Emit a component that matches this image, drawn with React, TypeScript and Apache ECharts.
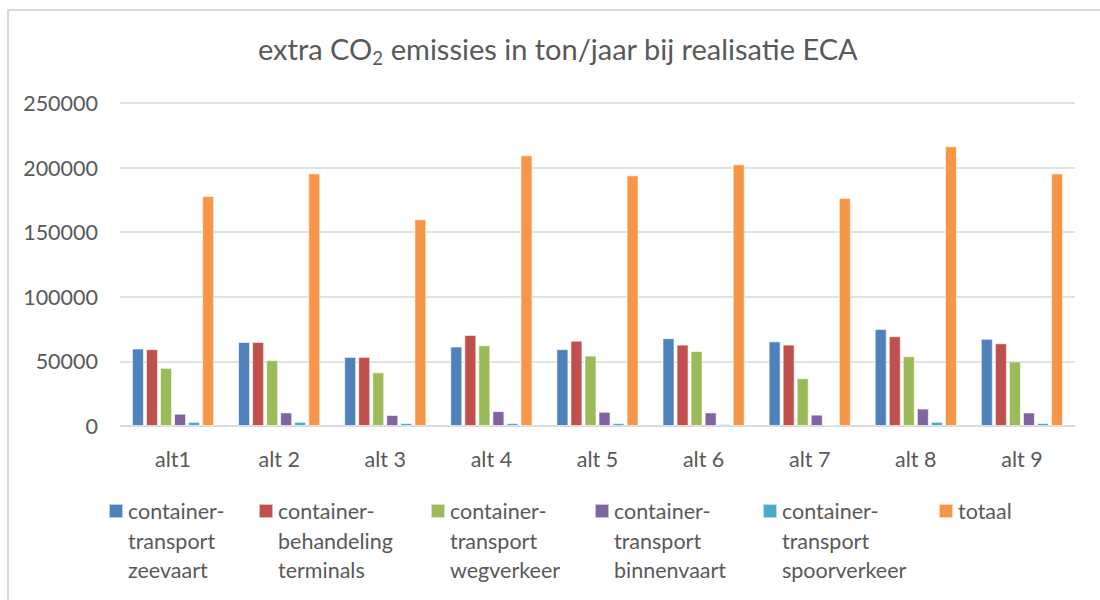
import React, { useEffect, useRef } from "react";
import * as echarts from "echarts";

const categories = ["alt1", "alt 2", "alt 3", "alt 4", "alt 5", "alt 6", "alt 7", "alt 8", "alt 9"];
const seriesNames = [
  "container-\ntransport\nzeevaart",
  "container-\nbehandeling\nterminals",
  "container-\ntransport\nwegverkeer",
  "container-\ntransport\nbinnenvaart",
  "container-\ntransport\nspoorverkeer",
  "totaal",
];
const zeevaart = [60000, 65000, 53500, 61500, 59500, 68000, 65500, 75000, 67500];
const behandeling = [59500, 65000, 53500, 70500, 66000, 63000, 63000, 69500, 64000];
const wegverkeer = [45000, 51000, 41500, 62500, 54500, 58000, 37000, 54000, 50000];
const binnenvaart = [9500, 10500, 8500, 11500, 11000, 10500, 8800, 13500, 10500];
const spoorverkeer = [3200, 3200, 2300, 2300, 2300, 1500, 1000, 3200, 2300];
const totaal = [178000, 195500, 160000, 209500, 194000, 202500, 176500, 216500, 195500];
const yTicks = { min: 0, max: 250000, interval: 50000 };

const colors = ["#4F81BD", "#C0504D", "#9BBB59", "#8064A2", "#4BACC6", "#F79646"];
const FONT = "Lato, 'Open Sans', sans-serif";
const TXT = "#595959";

export default function App() {
  const ref = useRef<HTMLDivElement>(null);
  useEffect(() => {
    if (!ref.current) return;
    const chart = echarts.init(ref.current, undefined, { renderer: "svg" });
    const values = [zeevaart, behandeling, wegverkeer, binnenvaart, spoorverkeer, totaal];
    const legendLeft = [108, 258, 430, 594, 762, 938];
    const lineH = 29.5;
    const legends = seriesNames.map((name, i) => ({
      data: [name],
      left: legendLeft[i],
      top: name.includes("\n") ? 511 - 2.5 * lineH : 511 - lineH / 2,
      padding: 0,
      itemWidth: 14,
      itemHeight: 14,
      icon: "rect",
      selectedMode: false,
      formatter: (n: string) => (n.includes("\n") ? "\n\n" + n : n),
      textStyle: { fontFamily: FONT, fontSize: 21.5, color: TXT, lineHeight: lineH },
    }));
    chart.setOption({
      animation: false,
      backgroundColor: "transparent",
      title: {
        text: "{a|extra CO}{s|2}{a| emissies in ton/jaar bij realisatie ECA}",
        left: 558,
        top: 29,
        textAlign: "center",
        padding: 0,
        textStyle: {
          fontWeight: "normal",
          rich: {
            a: { fontFamily: FONT, fontSize: 29, fontWeight: "normal", color: TXT, lineHeight: 38 },
            s: { fontFamily: FONT, fontSize: 18.5, fontWeight: "normal", color: TXT, lineHeight: 18, verticalAlign: "bottom" },
          },
        },
      },
      legend: legends,
      grid: { left: 120, right: 25, top: 103, bottom: 174, containLabel: false },
      xAxis: {
        type: "category",
        data: categories,
        axisTick: { show: false },
        axisLine: { lineStyle: { color: "#d9d9d9", width: 1.5 } },
        axisLabel: { fontFamily: FONT, fontSize: 21.5, color: TXT, margin: 22 },
      },
      yAxis: {
        type: "value",
        min: yTicks.min,
        max: yTicks.max,
        interval: yTicks.interval,
        axisLine: { show: false },
        axisTick: { show: false },
        axisLabel: {
          fontFamily: FONT,
          fontSize: 21.5,
          color: TXT,
          margin: 22,
          formatter: (v: number) => String(v),
        },
        splitLine: { lineStyle: { color: "#d9d9d9", width: 1.5 } },
      },
      series: seriesNames.map((name, i) => ({
        name,
        type: "bar",
        data: values[i],
        barWidth: 12,
        barGap: "17%",
        itemStyle: { color: colors[i], borderColor: "rgba(255,255,255,0.6)", borderWidth: 1 },
      })),
    });
    return () => chart.dispose();
  }, []);
  return (
    <div style={{ position: "absolute", left: 0, top: 0, width: 1100, height: 600, overflow: "hidden", background: "#fff" }}>
      <div style={{ position: "absolute", left: 7, top: 9, width: 1200, height: 700, border: "2px solid #d9d9d9" }} />
      <div ref={ref} style={{ position: "absolute", left: 0, top: 0, width: 1100, height: 600 }} />
    </div>
  );
}
